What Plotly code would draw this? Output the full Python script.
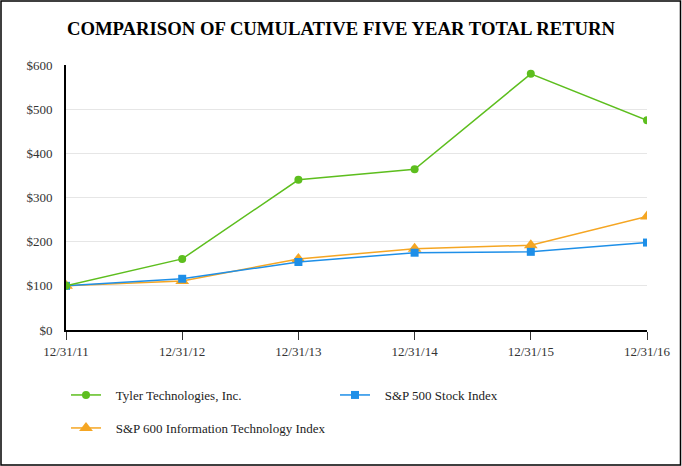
import plotly.graph_objects as go

dates = ["12/31/11", "12/31/12", "12/31/13", "12/31/14", "12/31/15", "12/31/16"]
tyler = [100, 161, 340, 364, 580, 475]
sp500 = [100, 116, 154, 175, 177, 198]
sp600it = [100, 111, 161, 184, 192, 257]
y_ticks = [0, 100, 200, 300, 400, 500, 600]
y_tick_labels = ["$0", "$100", "$200", "$300", "$400", "$500", "$600"]

W, H = 682, 466
L, R, T, B = 66, 647, 65, 330
pw, ph = R - L, B - T

def px(x):
    return (x - L) / pw

def py(y):
    return (B - y) / ph

FONT = "Liberation Serif"
green = "#5DBE1E"
blue = "#1E8FE8"
orange = "#F5A623"
pad = "\u00a0\u00a0\u00a0"

fig = go.Figure()
fig.add_trace(go.Scatter(x=dates, y=sp600it, name=pad + "S&P 600 Information Technology Index", mode="lines+markers",
                         line=dict(color=orange, width=1.5), marker=dict(symbol="triangle-up", size=12, color=orange),
                         legend="legend2"))
fig.add_trace(go.Scatter(x=dates, y=sp500, name=pad + "S&P 500 Stock Index", mode="lines+markers",
                         line=dict(color=blue, width=1.5), marker=dict(symbol="square", size=8, color=blue),
                         legend="legend", legendrank=2))
fig.add_trace(go.Scatter(x=dates, y=tyler, name=pad + "Tyler Technologies, Inc.", mode="lines+markers",
                         line=dict(color=green, width=1.5), marker=dict(symbol="circle", size=8, color=green),
                         legend="legend", legendrank=1))

fig.update_layout(
    width=W, height=H,
    margin=dict(l=L, r=W - R, t=T, b=H - B),
    paper_bgcolor="white", plot_bgcolor="white",
    font=dict(family=FONT, size=13, color="#222"),
    title=dict(text="<b>COMPARISON OF CUMULATIVE FIVE YEAR TOTAL RETURN</b>",
               x=0.5, xanchor="center", y=1 - 28 / H, yanchor="middle",
               font=dict(family=FONT, size=18.7, color="black")),
    xaxis=dict(type="category", range=[0, 5], showgrid=False, showline=True, linecolor="black", linewidth=2,
               ticks="outside", ticklen=8, tickcolor="#333", tickwidth=1,
               tickfont=dict(family=FONT, size=13, color="#333"), zeroline=False),
    yaxis=dict(range=[0, 600], tickvals=y_ticks, ticktext=y_tick_labels, showgrid=True, gridcolor="#e6e6e6",
               gridwidth=1, showline=True, linecolor="black", linewidth=2, ticks="outside", ticklen=9,
               tickcolor="white", tickfont=dict(family=FONT, size=13, color="#333"), zeroline=False),
    legend=dict(orientation="h", x=px(66), y=py(395), xanchor="left", yanchor="middle",
                entrywidth=224, entrywidthmode="pixels", traceorder="normal",
                font=dict(family=FONT, size=13, color="#222"), bgcolor="rgba(0,0,0,0)"),
    legend2=dict(orientation="h", x=px(66), y=py(428), xanchor="left", yanchor="middle",
                 font=dict(family=FONT, size=13, color="#222"), bgcolor="rgba(0,0,0,0)"),
    shapes=[dict(type="rect", xref="paper", yref="paper", x0=px(1), x1=px(680.5), y0=py(465), y1=py(1),
                 line=dict(color="black", width=1.5), fillcolor="rgba(0,0,0,0)", layer="above")],
)
fig.write_html("out.html", config={"displayModeBar": False},
               post_script="document.body.style.margin='0';document.body.style.overflow='hidden';")
